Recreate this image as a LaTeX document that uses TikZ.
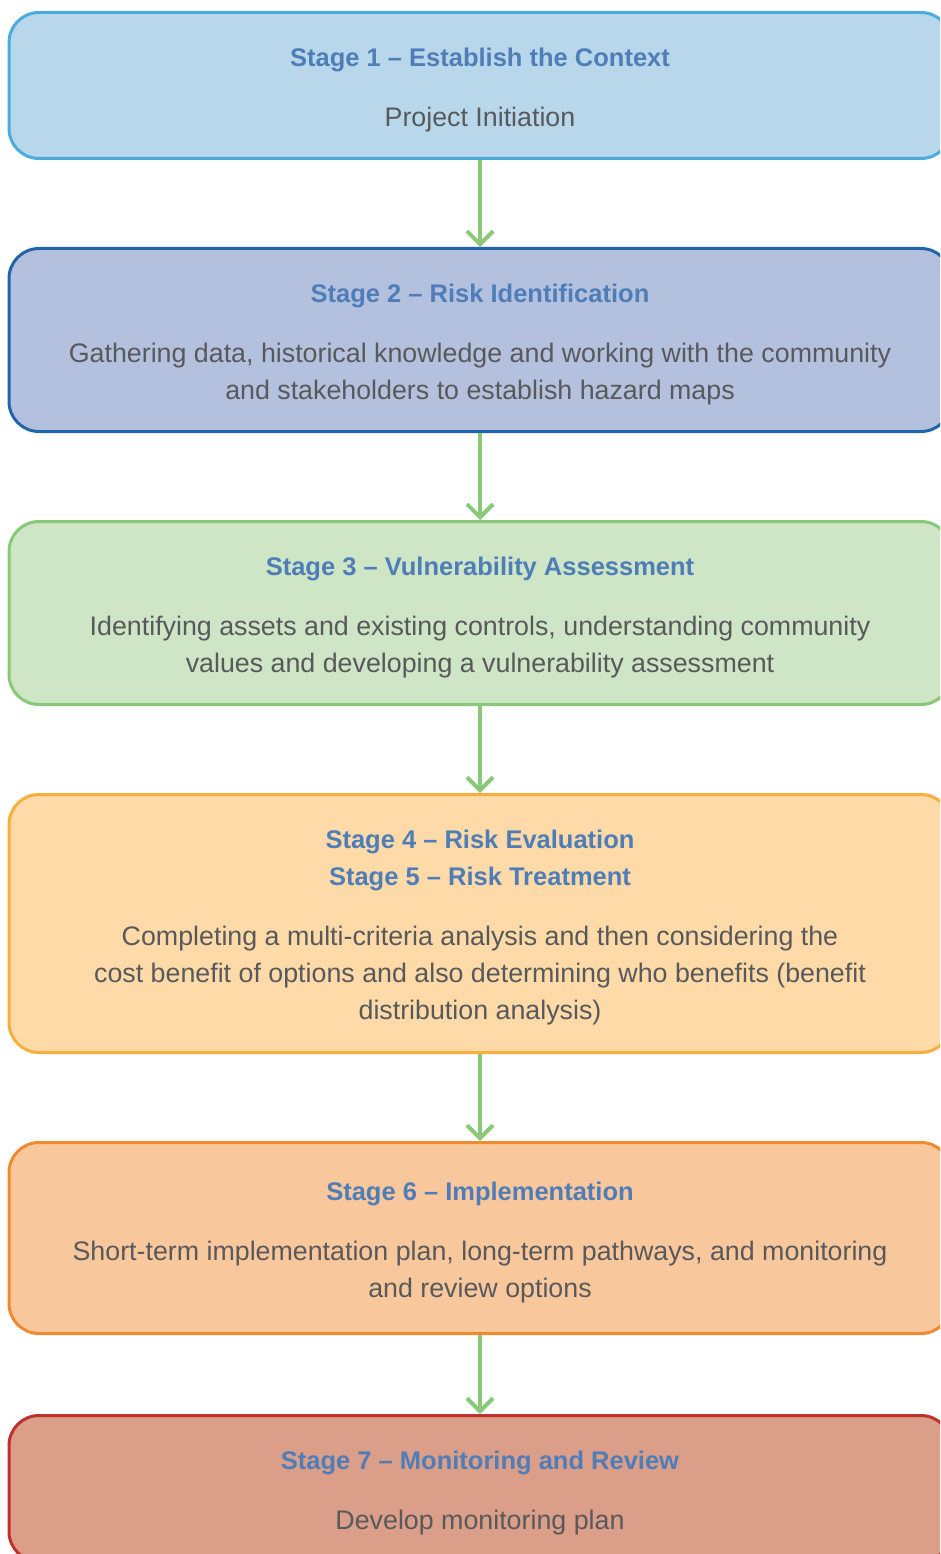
\documentclass[tikz,border=0pt]{standalone}
\usepackage{fontspec}
\setmainfont{Liberation Sans}
\usetikzlibrary{arrows.meta}

\definecolor{titleblue}{HTML}{4E7DB8}
\definecolor{textgrey}{HTML}{58595B}
\definecolor{flowgreen}{HTML}{8AC97A}
\definecolor{ctxfill}{HTML}{B8D7EA}
\definecolor{ctxline}{HTML}{4BACDB}
\definecolor{idfill}{HTML}{B4C1DE}
\definecolor{idline}{HTML}{1F66A8}
\definecolor{vulfill}{HTML}{CEE5C6}
\definecolor{vulline}{HTML}{88C878}
\definecolor{evalfill}{HTML}{FDDAA8}
\definecolor{evalline}{HTML}{F6AE3E}
\definecolor{implfill}{HTML}{F9C79C}
\definecolor{implline}{HTML}{F08A30}
\definecolor{monfill}{HTML}{DB9E88}
\definecolor{monline}{HTML}{C0302D}

\newcommand{\stagetitle}[1]{{\fontsize{25.5}{37}\selectfont\bfseries\color{titleblue}\rule{0pt}{27pt}#1}}

\tikzstyle{stage} = [draw,line width=3pt,rounded corners=30pt,minimum width=942pt,
  anchor=north,align=center,text=textgrey,font=\fontsize{26.8}{37}\selectfont]
\tikzstyle{flow} = [draw,line width=4pt,flowgreen,-{Straight Barb[length=13pt,width=26pt]}]

\begin{document}
\begin{tikzpicture}[x=1pt,y=-1pt]
    \clip (0,0) rectangle (940,1554);
    %% stages
    \node[stage, fill=ctxfill, draw=ctxline, minimum height=146pt] (s1) at (480,11)
      {\stagetitle{Stage 1 -- Establish the Context}\\[23pt]
       Project Initiation};
    \node[stage, fill=idfill, draw=idline, minimum height=183pt] (s2) at (480,247)
      {\stagetitle{Stage 2 -- Risk Identification}\\[23pt]
       Gathering data, historical knowledge and working with the community\\
       and stakeholders to establish hazard maps};
    \node[stage, fill=vulfill, draw=vulline, minimum height=183pt] (s3) at (480,520)
      {\stagetitle{Stage 3 -- Vulnerability Assessment}\\[23pt]
       Identifying assets and existing controls, understanding community\\
       values and developing a vulnerability assessment};
    \node[stage, fill=evalfill, draw=evalline, minimum height=258pt] (s4) at (480,793)
      {\stagetitle{Stage 4 -- Risk Evaluation}\\
       \stagetitle{Stage 5 -- Risk Treatment}\\[23pt]
       Completing a multi-criteria analysis and then considering the\\
       cost benefit of options and also determining who benefits (benefit\\
       distribution analysis)};
    \node[stage, fill=implfill, draw=implline, minimum height=191pt] (s5) at (480,1141)
      {\stagetitle{Stage 6 -- Implementation}\\[23pt]
       Short-term implementation plan, long-term pathways, and monitoring\\
       and review options};
    \node[stage, fill=monfill, draw=monline, minimum height=146pt] (s6) at (480,1414)
      {\stagetitle{Stage 7 -- Monitoring and Review}\\[23pt]
       Develop monitoring plan};
    %% arrows
    \path
    \foreach \startnode/\endnode in {
      s1/s2, s2/s3, s3/s4, s4/s5, s5/s6}
    {
      (\startnode) edge[flow] (\endnode)
    };
\end{tikzpicture}
\end{document}
